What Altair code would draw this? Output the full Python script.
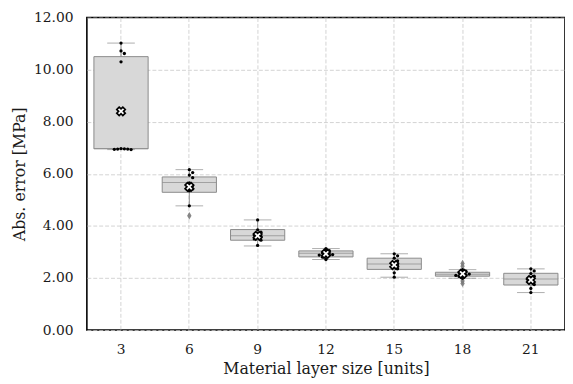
import altair as alt
import pandas as pd

sizes = ["3", "6", "9", "12", "15", "18", "21"]
q1 = [6.96, 5.29, 3.45, 2.81, 2.33, 2.07, 1.73]
q3 = [10.50, 5.88, 3.86, 3.04, 2.76, 2.22, 2.18]
medians = [6.97, 5.67, 3.62, 2.95, 2.54, 2.14, 1.96]
whisk_lo = [6.93, 4.77, 3.23, 2.71, 2.03, 1.99, 1.44]
whisk_hi = [11.02, 6.16, 4.23, 3.13, 2.93, 2.32, 2.35]
means = [8.40, 5.50, 3.62, 2.93, 2.50, 2.16, 1.92]

pts_3 = [11.02, 10.72, 10.62, 10.30, 6.97, 6.96, 6.95, 6.95, 6.94, 6.93]
pts_6 = [6.16, 6.05, 5.95, 5.85, 5.65, 5.55, 5.50, 5.42, 5.35, 4.77]
pts_9 = [4.23, 3.85, 3.76, 3.70, 3.65, 3.60, 3.55, 3.50, 3.45, 3.25]
pts_12 = [3.13, 3.05, 3.00, 2.96, 2.92, 2.90, 2.88, 2.85, 2.80, 2.71]
pts_15 = [2.93, 2.85, 2.76, 2.66, 2.57, 2.50, 2.44, 2.35, 2.20, 2.03]
pts_18 = [2.32, 2.26, 2.21, 2.18, 2.15, 2.12, 2.10, 2.06, 1.99]
pts_21 = [2.35, 2.27, 2.17, 2.07, 2.01, 1.95, 1.86, 1.75, 1.60, 1.44]
points = [pts_3, pts_6, pts_9, pts_12, pts_15, pts_18, pts_21]

out_sizes = ["6", "18", "18", "18", "18"]
out_values = [4.39, 2.56, 2.45, 1.88, 1.79]

W, H = 485, 317
STEP = W / len(sizes)
PX_PER_UNIT = H / 12.0
DOT = 3.4


def swarm(vals):
    placed = []
    offs = []
    cands = [0]
    for i in range(1, 20):
        cands += [i * DOT, -i * DOT]
    for v in vals:
        y = v * PX_PER_UNIT
        for c in cands:
            if all((c - px) ** 2 + (y - py) ** 2 >= DOT ** 2 for px, py in placed):
                placed.append((c, y))
                offs.append(c / STEP)
                break
    return offs


rows = []
for s, vals in zip(sizes, points):
    for v, o in zip(vals, swarm(vals)):
        rows.append({"size": s, "value": v, "off": o})
pts_df = pd.DataFrame(rows)

box_df = pd.DataFrame({"size": sizes, "q1": q1, "q3": q3, "median": medians,
                       "lo": whisk_lo, "hi": whisk_hi, "mean": means})
out_df = pd.DataFrame({"size": out_sizes, "value": out_values})

FONT = "DejaVu Serif"
GREY = "#8a8a8a"

x = alt.X("size:N", sort=sizes, title="Material layer size [units]",
          scale=alt.Scale(paddingInner=0, paddingOuter=0),
          axis=alt.Axis(labelAngle=0, grid=True, ticks=False, domain=False,
                        labelPadding=13, titlePadding=4))
yscale = alt.Scale(domain=[0, 12], nice=False, zero=True)
yaxis = alt.Axis(values=[0, 2, 4, 6, 8, 10, 12], format=".2f", ticks=False,
                 domain=False, labelPadding=14, titlePadding=6, grid=True)

base = alt.Chart(box_df).encode(x=x)

box = base.mark_bar(size=55, color="#d8d8d8", stroke=GREY, strokeWidth=1).encode(
    y=alt.Y("q1:Q", scale=yscale, axis=yaxis, title="Abs. error [MPa]"),
    y2="q3:Q")
wlo = base.mark_rule(color=GREY, strokeWidth=1).encode(y="lo:Q", y2="q1:Q")
whi = base.mark_rule(color=GREY, strokeWidth=1).encode(y="q3:Q", y2="hi:Q")
cap_lo = base.mark_tick(size=28, thickness=1, color=GREY).encode(y="lo:Q")
cap_hi = base.mark_tick(size=28, thickness=1, color=GREY).encode(y="hi:Q")
med = base.mark_tick(size=55, thickness=1, color=GREY).encode(y="median:Q")

outl = alt.Chart(out_df).mark_point(shape="M0,-1L0.6,0L0,1L-0.6,0Z", size=55,
                                    filled=True, color="#7a7a7a",
                                    opacity=0.9).encode(x=x, y="value:Q")

dots = alt.Chart(pts_df).mark_circle(size=11, color="black", opacity=1).encode(
    x=x, y="value:Q",
    xOffset=alt.XOffset("off:Q", scale=alt.Scale(domain=[-0.5, 0.5])))

mean_m = base.mark_point(shape="cross", angle=45, size=75, filled=True,
                         fill="white", stroke="black", strokeWidth=1.7,
                         opacity=1).encode(y="mean:Q")

chart = alt.layer(box, wlo, whi, cap_lo, cap_hi, med, outl, dots, mean_m).properties(
    width=W, height=H,
    padding={"left": 80, "top": 7, "right": 0, "bottom": 52},
    autosize=alt.AutoSizeParams(type="none"),
).configure_view(stroke="black", strokeWidth=1.6).configure_axis(
    labelFont=FONT, titleFont=FONT, labelFontSize=14, titleFontSize=16,
    titleFontWeight="normal", labelColor="#1a1a1a", titleColor="#1a1a1a",
    gridColor="#c8c8c8", gridDash=[4, 2], gridWidth=0.8,
)

chart.save("out.html", embed_options={"renderer": "svg", "actions": False})
